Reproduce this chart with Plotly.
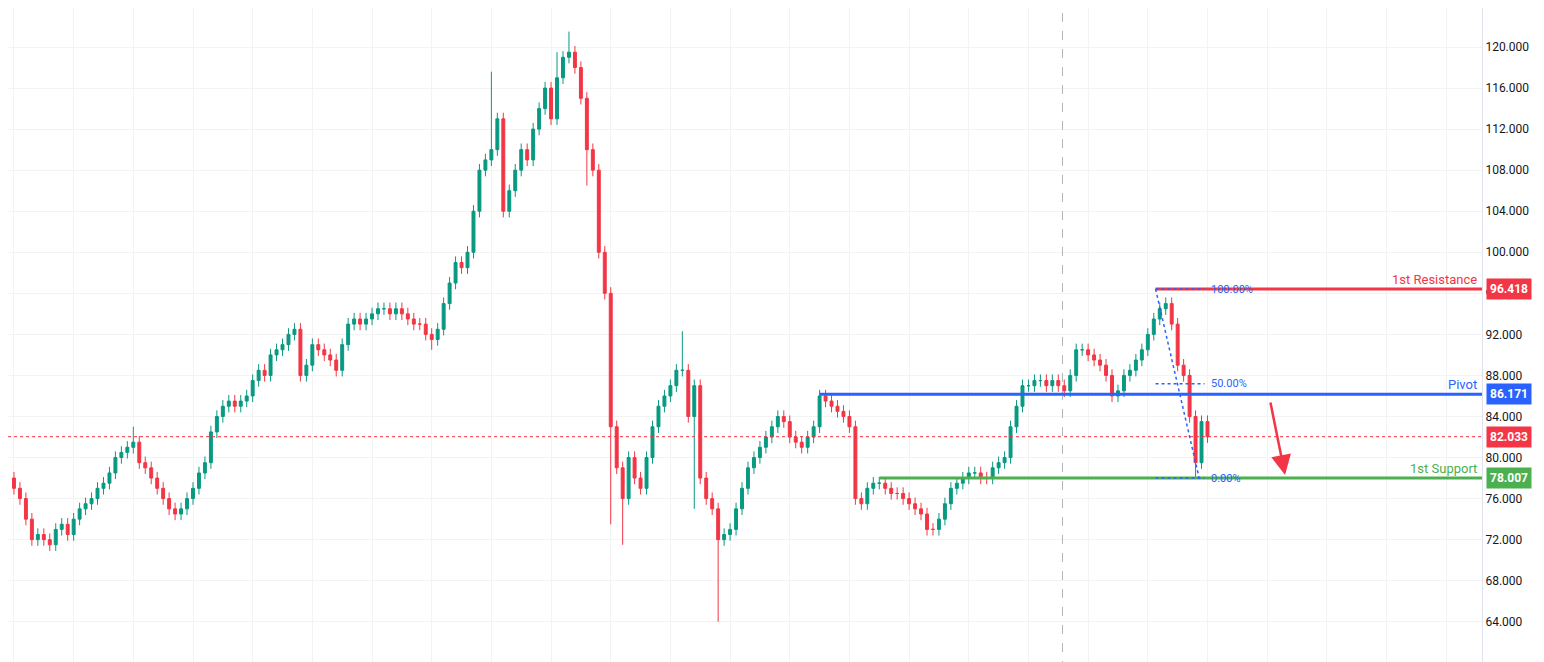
import plotly.graph_objects as go

closes = [77, 76, 74, 72, 72.5, 72, 71.5, 73, 73.5, 72.5,
          74, 75, 75.5, 76, 77, 77.5, 78.5, 80, 80.5, 81,
          81.5, 79.5, 79, 78, 77, 76, 75, 74.5, 75, 76,
          77, 78.5, 79.5, 82.5, 84, 85, 85.5, 85, 85.5, 86,
          87.5, 88.5, 88, 90, 90.5, 91, 92, 92.5, 88, 89,
          91, 90.5, 90, 89.5, 88.5, 91, 93, 93.5, 93, 93.5,
          94, 94.5, 94.5, 94, 94.5, 94, 93.5, 93, 93, 92,
          91.5, 92.5, 95, 97, 99, 98.5, 100, 104, 108, 109,
          110, 113, 104, 106, 108, 110, 109, 112, 114, 116,
          113, 117, 119, 119.5, 118, 115, 110, 108, 100, 96,
          83, 79, 76, 80, 78, 77, 80, 83, 85, 86,
          87, 88.5, 88.5, 84, 87, 78, 76, 75, 72, 72.5,
          73, 75, 77, 79, 80, 81, 82, 83, 84, 83.5,
          82, 81.5, 81, 82, 83, 86, 85.5, 85, 84.5, 84,
          83, 76, 75.5, 77, 77.5, 77.5, 77, 76.5, 76.5, 76,
          75.5, 75, 74.5, 73, 73, 74, 75.5, 77, 77.5, 78,
          78.5, 78.5, 78, 78, 79, 79.5, 80, 83, 85, 87,
          87, 87.5, 87.5, 87, 87.5, 87, 86.5, 88, 90.5, 90.5,
          90, 89.5, 89, 88, 86, 86.5, 88, 88.5, 89.5, 90.5,
          92, 93.5, 94.5, 95, 93, 89, 88, 84, 79.5, 83.5,
          82.033]
first_open = 78
wick = 0.6
spike_highs = {20: 83, 80: 117.6, 93: 121.5, 112: 92.3, 91: 119.5}
spike_lows = {70: 90.5, 96: 106.5, 100: 73.5, 102: 71.5, 114: 75, 118: 64, 198: 78}

resistance = 96.418
pivot = 86.171
support = 78.007
last_price = 82.033
fib_mid = 87.2
y_ticks = [60, 64, 68, 72, 76, 80, 84, 88, 92, 96, 100, 104, 108, 112, 116, 120, 124]

n = len(closes)
idx = list(range(n))
opens = [first_open] + closes[:-1]
highs = [spike_highs.get(i, max(o, c) + wick) for i, (o, c) in enumerate(zip(opens, closes))]
lows = [spike_lows.get(i, min(o, c) - wick) for i, (o, c) in enumerate(zip(opens, closes))]

GREEN, RED, BLUE, SGREEN = "#089981", "#F23645", "#2962FF", "#4CAF50"

fig = go.Figure(go.Candlestick(x=idx, open=opens, high=highs, low=lows, close=closes,
    increasing=dict(line=dict(color=GREEN, width=1), fillcolor=GREEN),
    decreasing=dict(line=dict(color=RED, width=1), fillcolor=RED),
    whiskerwidth=0, showlegend=False, hoverinfo="skip"))

xmax = 246
fig.add_shape(type="line", x0=-1, x1=xmax, y0=last_price, y1=last_price, line=dict(color=RED, width=1, dash="dot"))
fig.add_shape(type="line", x0=175.7, x1=175.7, y0=0, y1=1, yref="paper", line=dict(color="#b2b5be", width=1, dash="dash"))
fig.add_shape(type="line", x0=191.3, x1=xmax, y0=resistance, y1=resistance, line=dict(color=RED, width=3))
fig.add_shape(type="line", x0=135, x1=xmax, y0=pivot, y1=pivot, line=dict(color=BLUE, width=3))
fig.add_shape(type="line", x0=145, x1=xmax, y0=support, y1=support, line=dict(color=SGREEN, width=3))
for lvl in [resistance, fib_mid, support]:
    fig.add_shape(type="line", x0=191.3, x1=199.5, y0=lvl, y1=lvl, line=dict(color=BLUE, width=1.5, dash="dot"))
fig.add_shape(type="line", x0=191.3, x1=198.6, y0=resistance, y1=support, line=dict(color=BLUE, width=1.5, dash="dot"))
for lvl, t in [(resistance, "100.00%"), (fib_mid, "50.00%"), (support, "0.00%")]:
    fig.add_annotation(x=200.3, y=lvl, text=t, showarrow=False, xanchor="left", font=dict(color=BLUE, size=11))
fig.add_annotation(x=213, y=78.3, ax=210.5, ay=85.5, xref="x", yref="y", axref="x", ayref="y",
                   showarrow=True, arrowhead=2, arrowsize=1.6, arrowwidth=2.5, arrowcolor=RED, text="")
for lvl, t, c in [(resistance, "1st Resistance", RED), (pivot, "Pivot", BLUE), (support, "1st Support", SGREEN)]:
    fig.add_annotation(x=xmax - 0.5, y=lvl, text=t, showarrow=False, xanchor="right", yanchor="bottom",
                       font=dict(color=c, size=13))
for lvl, c in [(resistance, RED), (pivot, BLUE), (last_price, RED), (support, SGREEN)]:
    fig.add_annotation(x=1.003, xref="paper", y=lvl, text="<b>%.3f</b>" % lvl, showarrow=False, xanchor="left",
                       bgcolor=c, font=dict(color="white", size=12), borderpad=3)

fig.update_layout(width=1544, height=662, margin=dict(l=0, r=70, t=0, b=0),
    plot_bgcolor="white", paper_bgcolor="white", font=dict(family="Roboto", color="#131722"),
    xaxis=dict(range=[-1, xmax], showticklabels=False, rangeslider=dict(visible=False),
               showgrid=True, gridcolor="#f3f3f3", dtick=10, zeroline=False),
    yaxis=dict(range=[59.3, 123.8], side="right", tickvals=y_ticks, ticktext=["%.3f" % v for v in y_ticks],
               showgrid=True, gridcolor="#f3f3f3", zeroline=False, tickfont=dict(size=12),
               showline=True, linecolor="#e0e3eb", ticks=""))
fig.write_html("out.html")
